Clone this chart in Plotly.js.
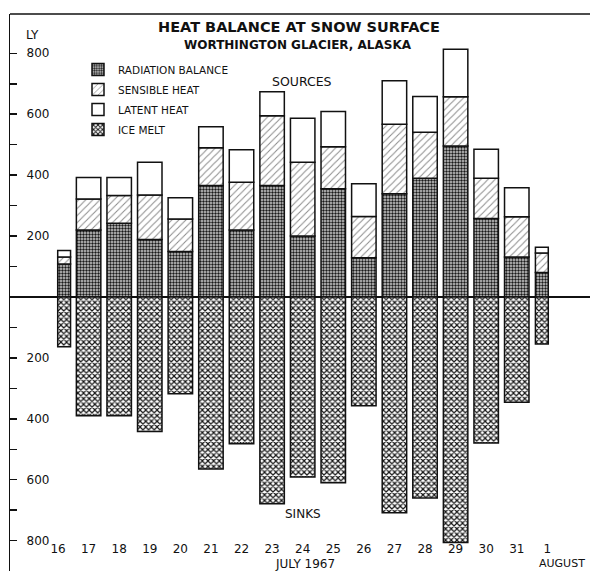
<!DOCTYPE html>
<html>
<head>
<meta charset="utf-8">
<script src="https://cdn.plot.ly/plotly-3.0.1.min.js"></script>
<style>
html, body { margin: 0; padding: 0; overflow: hidden; background: #fff; }
#chart { width: 592px; height: 580px; }
</style>
</head>
<body>
<div id="chart"></div>
<script>
// Days (July 16 .. July 31, August 1)
const dayLabels = ['16','17','18','19','20','21','22','23','24','25','26','27','28','29','30','31','1'];

// Heat sources (langleys per day)
const radiationBalance = [108, 220, 242, 189, 149, 366, 220, 366, 200, 355, 129, 339, 390, 496, 258, 131, 80];
const sensibleHeat     = [ 23, 102,  91, 146, 107, 124, 157, 229, 242, 138, 135, 228, 151, 161, 132, 132, 64];
const latentHeat       = [ 22,  70,  59, 107,  70,  69, 106,  79, 145, 116, 108, 143, 117, 156,  95,  96, 19];
// Heat sink (ice melt, drawn downward)
const iceMelt          = [163, 390, 390, 442, 318, 565, 482, 679, 591, 610, 357, 708, 660, 806, 479, 346, 154];

// Axis tick values / labels
const yTickVals = [-800,-700,-600,-500,-400,-300,-200,-100,0,100,200,300,400,500,600,700,800];
const yTickText = ['800','','600','','400','','200','','','','200','','400','','600','','800'];

// Bar widths: half-day bars at both ends
const barWidth  = dayLabels.map((d, i) => (i === 0 || i === dayLabels.length - 1) ? 0.42 : 0.8);
const barOffset = dayLabels.map((d, i) => i === 0 ? -0.01 : (i === dayLabels.length - 1 ? -0.39 : -0.4));

const FONT = 'DejaVu Sans, Arial, sans-serif';
const outline = { color: '#111', width: 1.5 };

const traces = [
  {
    type: 'bar', name: 'RADIATION BALANCE', x: dayLabels, y: radiationBalance,
    width: barWidth, offset: barOffset, legendgroup: 'a',
    marker: { color: '#9a9a9a', line: outline,
      pattern: { shape: '.', fgcolor: '#1a1a1a', bgcolor: '#cfcfcf', size: 3, solidity: 0.5, fillmode: 'replace' } }
  },
  {
    type: 'bar', name: 'SENSIBLE HEAT', x: dayLabels, y: sensibleHeat,
    width: barWidth, offset: barOffset, legendgroup: 'b',
    marker: { color: '#ffffff', line: outline,
      pattern: { shape: '/', fgcolor: '#8c8c8c', bgcolor: '#ffffff', size: 5, solidity: 0.2, fillmode: 'replace' } }
  },
  {
    type: 'bar', name: 'LATENT HEAT', x: dayLabels, y: latentHeat,
    width: barWidth, offset: barOffset, legendgroup: 'c',
    marker: { color: '#ffffff', line: outline }
  },
  {
    type: 'bar', name: 'ICE MELT', x: dayLabels, y: iceMelt.map(v => -v),
    width: barWidth, offset: barOffset, legendgroup: 'd',
    marker: { color: '#777', line: outline,
      pattern: { shape: 'x', fgcolor: '#151515', bgcolor: '#ffffff', size: 4, solidity: 0.5, fillmode: 'replace' } }
  }
];

const W = 592, H = 580, ML = 10, MR = 0, MT = 14, MB = 4;
const PW = W - ML - MR, PH = H - MT - MB;
const px = x => (x - ML) / PW;
const py = y => (H - MB - y) / PH;

const layout = {
  width: W, height: H,
  margin: { l: ML, r: MR, t: MT, b: MB, pad: 0 },
  paper_bgcolor: '#fff', plot_bgcolor: '#fff',
  barmode: 'relative',
  bargap: 0,
  font: { family: FONT, color: '#111', size: 12 },
  showlegend: true,
  legend: {
    x: px(78), y: py(55), xanchor: 'left', yanchor: 'top',
    bgcolor: 'rgba(0,0,0,0)', borderwidth: 0,
    traceorder: 'grouped', tracegroupgap: 1,
    font: { family: FONT, size: 10.5, color: '#111' }
  },
  xaxis: {
    type: 'category', range: [-1.57, 17.46],
    anchor: 'free', position: 0.064,
    showline: false, showgrid: false, zeroline: false, ticks: '',
    tickfont: { family: FONT, size: 12, color: '#111' },
    fixedrange: true
  },
  yaxis: {
    range: [-916, 929],
    tickmode: 'array', tickvals: yTickVals, ticktext: yTickText,
    ticks: 'inside', ticklen: 7, tickwidth: 1.5, tickcolor: '#111',
    ticklabelposition: 'inside', ticklabelstandoff: 9,
    tickfont: { family: FONT, size: 12, color: '#111' },
    showline: true, linecolor: '#111', linewidth: 1.5,
    showgrid: false,
    zeroline: true, zerolinecolor: '#111', zerolinewidth: 1.5,
    fixedrange: true
  },
  yaxis2: {
    overlaying: 'y', side: 'right', anchor: 'x',
    range: [-916, 929],
    tickmode: 'array', tickvals: yTickVals,
    ticks: 'inside', ticklen: 12, tickwidth: 1.5, tickcolor: '#111',
    showticklabels: false, showline: false, showgrid: false, zeroline: false,
    fixedrange: true
  },
  shapes: [
    { type: 'line', xref: 'paper', yref: 'paper', x0: 0, x1: 1, y0: 1, y1: 1,
      line: { color: '#111', width: 1.5 } }
  ],
  annotations: [
    { text: 'HEAT BALANCE AT SNOW SURFACE', x: px(299), y: py(26.7), xref: 'paper', yref: 'paper',
      showarrow: false, xanchor: 'center', yanchor: 'middle',
      font: { family: FONT, size: 14.5, color: '#111', weight: 'bold' } },
    { text: 'WORTHINGTON GLACIER, ALASKA', x: px(298), y: py(45), xref: 'paper', yref: 'paper',
      showarrow: false, xanchor: 'center', yanchor: 'middle',
      font: { family: FONT, size: 12, color: '#111', weight: 'bold' } },
    { text: 'LY', x: px(32.5), y: py(35.5), xref: 'paper', yref: 'paper',
      showarrow: false, xanchor: 'center', yanchor: 'middle',
      font: { family: FONT, size: 12, color: '#111' } },
    { text: 'SOURCES', x: px(302), y: py(81), xref: 'paper', yref: 'paper',
      showarrow: false, xanchor: 'center', yanchor: 'middle',
      font: { family: FONT, size: 12.5, color: '#111' } },
    { text: 'SINKS', x: px(302.5), y: py(514), xref: 'paper', yref: 'paper',
      showarrow: false, xanchor: 'center', yanchor: 'middle',
      font: { family: FONT, size: 12, color: '#111' } },
    { text: 'JULY 1967', x: px(305), y: py(564), xref: 'paper', yref: 'paper',
      showarrow: false, xanchor: 'center', yanchor: 'middle',
      font: { family: FONT, size: 12, color: '#111' } },
    { text: 'AUGUST', x: px(562), y: py(563.5), xref: 'paper', yref: 'paper',
      showarrow: false, xanchor: 'center', yanchor: 'middle',
      font: { family: FONT, size: 11, color: '#111' } }
  ]
};

Plotly.newPlot('chart', traces, layout, { displayModeBar: false, staticPlot: true });
</script>
</body>
</html>
